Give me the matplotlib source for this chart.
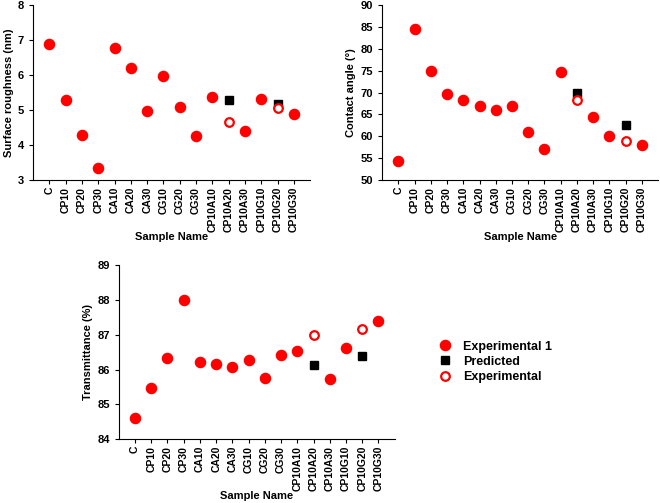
import numpy as np
import matplotlib
matplotlib.use("Agg")
import matplotlib.pyplot as plt
from matplotlib.lines import Line2D

plt.rcParams['font.family'] = ['Liberation Sans', 'DejaVu Sans']
plt.rcParams['font.weight'] = 'bold'
plt.rcParams['axes.labelweight'] = 'bold'

samples = ["C", "CP10", "CP20", "CP30", "CA10", "CA20", "CA30", "CG10", "CG20",
           "CG30", "CP10A10", "CP10A20", "CP10A30", "CP10G10", "CP10G20", "CP10G30"]

# experimental 1 (filled red circles); None where not measured
rough_exp1 = [6.90, 5.28, 4.30, 3.34, 6.76, 6.19, 4.97, 5.97, 5.10, 4.27, 5.36, None, 4.41, 5.32, None, 4.89]
angle_exp1 = [54.3, 84.5, 75.0, 69.6, 68.4, 67.0, 66.0, 67.0, 61.0, 57.0, 74.8, None, 64.3, 60.0, None, 58.1]
trans_exp1 = [84.60, 85.47, 86.32, 88.00, 86.21, 86.16, 86.08, 86.28, 85.77, 86.41, 86.52, None, 85.73, 86.62, None, 87.38]

# predicted vs experimental for the optimised samples
opt_samples = ["CP10A20", "CP10G20"]
rough_pred = [5.30, 5.17]
rough_exp = [4.65, 5.06]
angle_pred = [70.0, 62.6]
angle_exp = [68.3, 59.0]
trans_pred = [86.14, 86.38]
trans_exp = [86.98, 87.15]

fig = plt.figure(figsize=(6.6, 5.03), dpi=100)

def panel(rect, exp1, pred, exp, ylabel, ylim, yticks):
    ax = fig.add_axes(rect)
    x = np.arange(len(samples))
    xe = [i for i, v in enumerate(exp1) if v is not None]
    ye = [v for v in exp1 if v is not None]
    xo = [samples.index(s) for s in opt_samples]
    ax.plot(xe, ye, 'o', color='#ff0000', ms=7.3, mec='#ff0000', ls='none')
    ax.plot(xo, pred, 's', color='black', ms=5.6, ls='none')
    ax.plot(xo, exp, 'o', mfc='white', mec='#ff0000', mew=1.6, ms=6.2, ls='none')
    ax.set_xlim(-1, 16)
    ax.set_ylim(*ylim)
    ax.set_yticks(yticks)
    ax.set_xticks(x)
    ax.set_xticklabels(samples, rotation=90, fontsize=7.5, fontweight='bold')
    ax.tick_params(axis='y', labelsize=8, direction='out', length=3, width=0.8)
    ax.tick_params(axis='x', direction='out', length=3, width=0.8, pad=2)
    for s in ['top', 'right']:
        ax.spines[s].set_visible(False)
    for s in ['left', 'bottom']:
        ax.spines[s].set_linewidth(0.8)
    ax.set_ylabel(ylabel, fontsize=8, fontweight='bold', labelpad=3)
    ax.set_xlabel("Sample Name", fontsize=8, fontweight='bold', labelpad=0)
    return ax

panel([0.05, 0.642, 0.42, 0.348], rough_exp1, rough_pred, rough_exp,
      "Surface roughness (nm)", (3, 8), range(3, 9))
panel([0.579, 0.642, 0.418, 0.348], angle_exp1, angle_pred, angle_exp,
      "Contact angle (°)", (50, 90), range(50, 91, 5))
panel([0.18, 0.127, 0.418, 0.346], trans_exp1, trans_pred, trans_exp,
      "Transmittance (%)", (84, 89), range(84, 90))

handles = [
    Line2D([], [], marker='o', color='#ff0000', ms=7.3, ls='none'),
    Line2D([], [], marker='s', color='black', ms=5.6, ls='none'),
    Line2D([], [], marker='o', mfc='white', mec='#ff0000', mew=1.6, ms=6.2, ls='none'),
]
fig.legend(handles, ["Experimental 1", "Predicted", "Experimental"],
           loc='upper left', bbox_to_anchor=(0.656, 0.335), frameon=False,
           prop={'size': 9, 'weight': 'bold'}, handlelength=1.0,
           handletextpad=0.9, labelspacing=0.25, borderpad=0)

fig.savefig("out.png", dpi=100)
